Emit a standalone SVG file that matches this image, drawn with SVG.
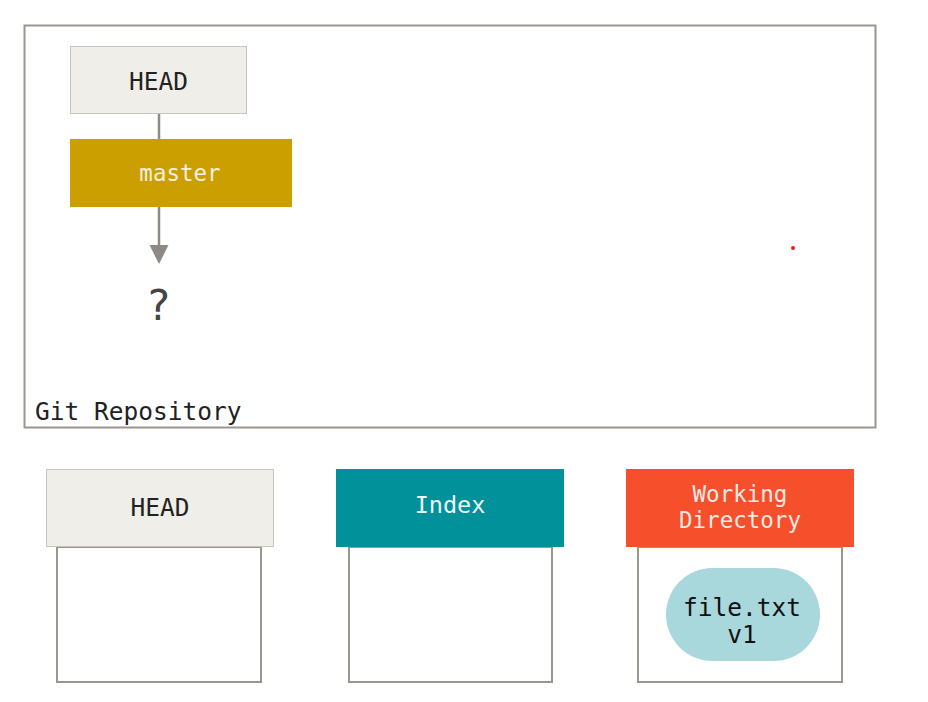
<svg xmlns="http://www.w3.org/2000/svg" width="928" height="702" viewBox="0 0 928 702">
<defs>
<style>
.t{font-family:"DejaVu Sans Mono","Liberation Mono",monospace;font-size:24.5px;text-anchor:middle;dominant-baseline:central}
.w{font-size:22.5px}
.box{fill:#fff;stroke:#9a958f;stroke-width:2}
.light{fill:#efeee8;stroke:#c8c5be;stroke-width:1}
.conn{stroke:#8e8a85;stroke-width:2.5;fill:none}
</style>
</defs>
<rect width="928" height="702" fill="#fff"/>
<g id="repository">
<rect class="box" x="24.5" y="25.5" width="851" height="402"/>
<text class="t" x="35" y="411" style="text-anchor:start" fill="#222">Git Repository</text>
</g>
<g id="connectors">
<line class="conn" x1="159" y1="114" x2="159" y2="139"/>
<line class="conn" x1="159" y1="207" x2="159" y2="246"/>
<path d="M149.5,245 L168.5,245 L159,264 Z" fill="#8e8a85"/>
</g>
<g id="head-top">
<rect class="light" x="70.5" y="46.5" width="176" height="67"/>
<text class="t" x="158.5" y="81" fill="#222">HEAD</text>
</g>
<g id="master">
<rect x="70" y="139" width="222" height="68" fill="#cc9f00"/>
<text class="t w" x="180" y="173" fill="#f5efe0">master</text>
</g>
<g id="unknown">
<text x="159" y="305" style="font-family:'DejaVu Sans',sans-serif;font-size:42px;text-anchor:middle;dominant-baseline:central" fill="#444">?</text>
</g>
<circle cx="793" cy="248" r="2" fill="#e02020"/>
<g id="head-area">
<rect class="box" x="57" y="547" width="204" height="135"/>
<rect class="light" x="46.5" y="469.5" width="227" height="77"/>
<text class="t" x="160" y="507" fill="#222">HEAD</text>
</g>
<g id="index-area">
<rect class="box" x="349" y="547" width="203" height="135"/>
<rect x="336" y="469" width="228" height="78" fill="#00919a"/>
<text class="t" x="450" y="505" style="font-size:23.5px" fill="#eef6f6">Index</text>
</g>
<g id="working-area">
<rect class="box" x="638" y="547" width="204" height="135"/>
<rect x="626" y="469" width="228" height="78" fill="#f54f2b"/>
<text class="t w" x="740" y="494" fill="#fbe9e4">Working</text>
<text class="t w" x="740" y="520" fill="#fbe9e4">Directory</text>
</g>
<g id="file-v1">
<rect x="666" y="568" width="154" height="93" rx="46.5" fill="#a8d8dc"/>
<text class="t" x="742" y="607" fill="#111">file.txt</text>
<text class="t" x="742" y="634" fill="#111">v1</text>
</g>
</svg>
